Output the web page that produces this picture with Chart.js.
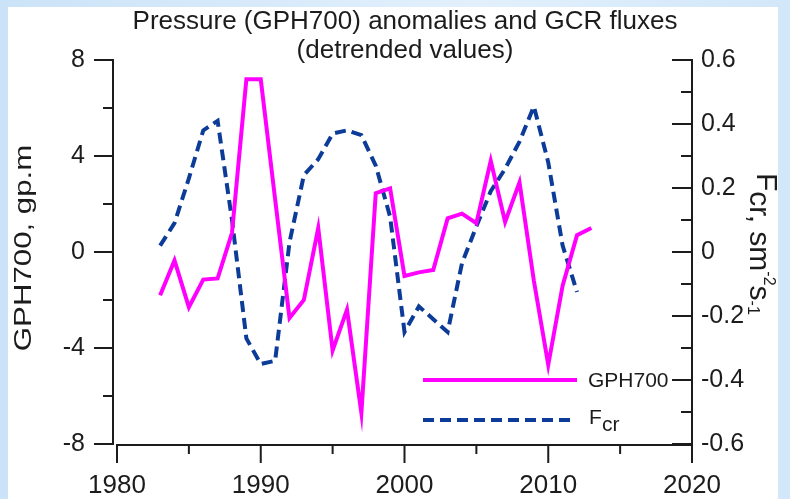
<!DOCTYPE html>
<html>
<head>
<meta charset="utf-8">
<title>GPH700 and GCR fluxes</title>
<script src="https://cdn.jsdelivr.net/npm/chart.js@4.4.1/dist/chart.umd.min.js"></script>
<style>
  body {
    margin: 0;
    width: 790px;
    height: 499px;
    overflow: hidden;
    background: linear-gradient(90deg, #cbe3f8, #e2f0fc 60%, #d2e7f9);
  }
  .paper { position: absolute; left: 8px; top: 7px; width: 770px; height: 492px; background: #fff; }
  #chart { position: absolute; left: 0; top: 0; }
</style>
</head>
<body>
<div class="paper"></div>
<canvas id="chart" width="790" height="499"></canvas>
<script>
// detrended values
const gphYears = [1983, 1984, 1985, 1986, 1987, 1988, 1989, 1990, 1991, 1992, 1993, 1994, 1995, 1996, 1997, 1998,
                  1999, 2000, 2001, 2002, 2003, 2004, 2005, 2006, 2007, 2008, 2009, 2010, 2011, 2012, 2013];
const gph700 = [-1.8, -0.35, -2.3, -1.15, -1.1, 0.8, 7.2, 7.2, 2.2, -2.75, -2.0, 1.0, -4.1, -2.4, -6.7, 2.45,
                2.65, -1.0, -0.85, -0.75, 1.4, 1.6, 1.2, 3.8, 1.25, 2.9, -1.2, -4.7, -1.4, 0.7, 1.0];

const fcrYears = [1983, 1984, 1985, 1986, 1987, 1988, 1989, 1990, 1991, 1992, 1993, 1994, 1995, 1996, 1997, 1998,
                  1999, 2000, 2001, 2002, 2003, 2004, 2005, 2006, 2007, 2008, 2009, 2010, 2011, 2012];
const fcr = [0.02, 0.09, 0.23, 0.38, 0.41, 0.1, -0.27, -0.35, -0.34, 0.03, 0.24, 0.29, 0.37, 0.38, 0.365, 0.27,
             0.11, -0.25, -0.17, -0.21, -0.25, -0.035, 0.08, 0.19, 0.26, 0.345, 0.455, 0.28, 0.02, -0.125];

const FONT = 'Arial, "Liberation Sans", sans-serif';
const INK = '#1c1c1c';

// title, axis names, legend and the hand-made axes (ticks go out on the left, in on the right)
const decorations = {
    id: 'decorations',
    afterDatasetsDraw(chart) {
        const { ctx, scales: { x, y, y1 } } = chart;
        const top = y.getPixelForValue(8);
        const bottom = y.getPixelForValue(-8);
        const lx = x.left - 4;
        const rx = x.right;
        const ax = bottom + 1;

        ctx.save();
        ctx.strokeStyle = INK;
        ctx.lineWidth = 2;
        ctx.beginPath();
        ctx.moveTo(lx, top);
        ctx.lineTo(lx, bottom);
        for (let v = -8; v <= 8; v += 2) {
            const py = y.getPixelForValue(v);
            ctx.moveTo(lx + 1, py);
            ctx.lineTo(lx - (v % 4 === 0 ? 19 : 10), py);
        }
        ctx.moveTo(x.left - 1, ax);
        ctx.lineTo(rx, ax);
        for (let yr = 1980; yr <= 2020; yr += 5) {
            const px = x.getPixelForValue(yr);
            ctx.moveTo(px, ax);
            ctx.lineTo(px, ax + (yr % 10 === 0 ? 18 : 9));
        }
        ctx.moveTo(rx, top);
        ctx.lineTo(rx, ax);
        for (let i = -6; i <= 6; i++) {
            const py = y1.getPixelForValue(i / 10);
            ctx.moveTo(rx + 1, py);
            ctx.lineTo(rx - (i % 2 === 0 ? 20 : 11), py);
        }
        ctx.stroke();

        // legend
        ctx.lineWidth = 4;
        ctx.strokeStyle = '#ff00ff';
        ctx.beginPath();
        ctx.moveTo(423, 380);
        ctx.lineTo(577, 380);
        ctx.stroke();
        ctx.strokeStyle = '#0c3c98';
        ctx.setLineDash([11, 6]);
        ctx.beginPath();
        ctx.moveTo(423, 420);
        ctx.lineTo(571, 420);
        ctx.stroke();
        ctx.setLineDash([]);

        ctx.fillStyle = INK;
        ctx.font = '21px ' + FONT;
        ctx.textBaseline = 'middle';
        ctx.fillText('GPH700', 588, 381);
        ctx.textBaseline = 'alphabetic';
        ctx.fillText('F', 589, 424);
        ctx.fillText('cr', 602, 431);

        // title
        ctx.font = '26px ' + FONT;
        ctx.textAlign = 'center';
        ctx.textBaseline = 'middle';
        ctx.fillText('Pressure (GPH700) anomalies and GCR fluxes', 405, 22);
        ctx.fillText('(detrended values)', 405, 51);

        // left axis name, drawn wide like the original
        ctx.save();
        ctx.translate(24, 248);
        ctx.rotate(-Math.PI / 2);
        ctx.scale(1.3, 1);
        ctx.font = '24px ' + FONT;
        ctx.fillText('GPH700, gp.m', 0, 0);
        ctx.restore();

        // right axis name: F_cr, sm^-2 s^-1
        ctx.save();
        ctx.translate(757, 173);
        ctx.rotate(Math.PI / 2);
        ctx.textAlign = 'left';
        ctx.textBaseline = 'alphabetic';
        const parts = [['F', 30, 0], ['cr, sm', 30, 7], ['-2', 16, -7], ['s', 30, 7], ['-1', 16, 9]];
        let pos = 0;
        parts.forEach(function(p) {
            ctx.font = p[1] + 'px ' + FONT;
            ctx.fillText(p[0], pos, p[2]);
            pos += ctx.measureText(p[0]).width;
        });
        ctx.restore();

        ctx.restore();
    }
};

const ctx = document.getElementById('chart').getContext('2d');
new Chart(ctx, {
    type: 'line',
    data: {
        datasets: [
            {
                label: 'GPH700',
                data: gphYears.map((yr, i) => ({ x: yr, y: gph700[i] })),
                borderColor: '#ff00ff',
                borderWidth: 4,
                pointRadius: 0,
                tension: 0,
                yAxisID: 'y',
            },
            {
                label: 'Fcr',
                data: fcrYears.map((yr, i) => ({ x: yr, y: fcr[i] })),
                borderColor: '#0c3c98',
                borderWidth: 4,
                borderDash: [11, 6],
                pointRadius: 0,
                tension: 0,
                yAxisID: 'y1',
            },
        ],
    },
    options: {
        responsive: false,
        animation: false,
        devicePixelRatio: 1,
        layout: { padding: { top: 60, left: 0, right: 0, bottom: 0 } },
        plugins: { legend: { display: false }, tooltip: { enabled: false } },
        scales: {
            x: {
                type: 'linear',
                min: 1980,
                max: 2020,
                grid: { display: false, drawTicks: false },
                border: { display: false },
                ticks: {
                    stepSize: 10,
                    padding: 26,
                    color: INK,
                    font: { family: FONT, size: 26 },
                    callback: v => String(v),
                },
                afterFit: s => { s.height = 55; },
            },
            y: {
                position: 'left',
                min: -8,
                max: 8,
                grid: { display: false, drawTicks: false },
                border: { display: false },
                ticks: {
                    stepSize: 4,
                    padding: 32,
                    color: INK,
                    font: { family: FONT, size: 25 },
                },
                afterFit: s => { s.width = 117; },
            },
            y1: {
                position: 'right',
                min: -0.6,
                max: 0.6,
                grid: { display: false, drawTicks: false },
                border: { display: false },
                ticks: {
                    stepSize: 0.2,
                    padding: 9,
                    color: INK,
                    font: { family: FONT, size: 25 },
                    callback: v => String(Math.round(v * 10) / 10),
                },
                afterFit: s => { s.width = 98; },
            },
        },
    },
    plugins: [decorations],
});
</script>
</body>
</html>
